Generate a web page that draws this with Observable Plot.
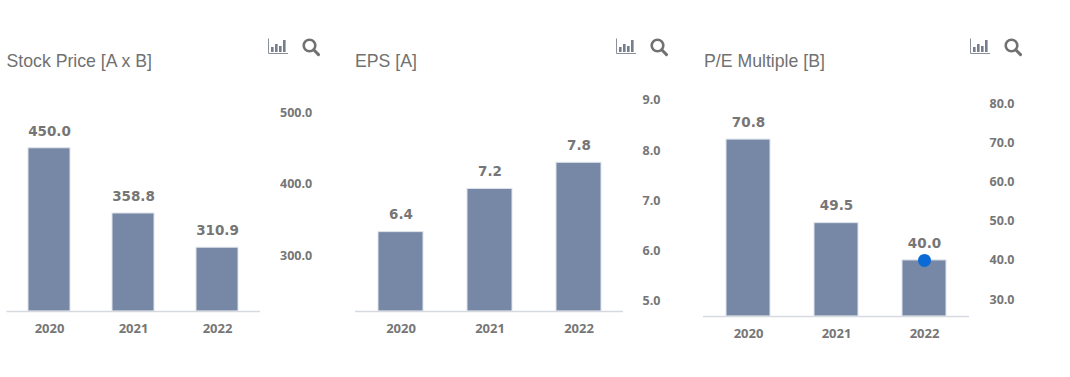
<!DOCTYPE html>
<html><head><meta charset="utf-8">
<script src="https://cdn.jsdelivr.net/npm/d3@7"></script>
<script src="https://cdn.jsdelivr.net/npm/@observablehq/plot@0.6"></script>
<style>
html,body{margin:0;padding:0;background:#fff;overflow:hidden}
#root{position:relative;width:1070px;height:377px}
.title{position:absolute;top:50px;font:17.7px "Liberation Sans",Arial,sans-serif;color:#717171;white-space:nowrap;line-height:22px}
.ic{position:absolute;top:36px}
</style></head><body><div id="root"></div>
<script>
const years = ["2020","2021","2022"];
const priceValues = [450.0,358.8,310.9];
const epsValues = [6.38,7.24,7.76];
const peValues = [70.8,49.5,40.0];
const priceTicks = [300,400,500];
const epsTicks = [5,6,7,8,9];
const peTicks = [30,40,50,60,70,80];
const BAR="#7788a6", TXT="#767676", AXIS="#d6d9e0";

const panels = [
 {title:"Stock Price [A x B]", titleX:6.5, left:0, w:340, ml:6.5, mr:80, bottom:311, domain:[221.7,544.8], values:priceValues, ticks:priceTicks, iconX:267, pad:19.5},
 {title:"EPS [A]", titleX:355, left:340, w:340, ml:15, mr:57, bottom:311, domain:[4.8,9.398], values:epsValues, ticks:epsTicks, iconX:615, pad:19},
 {title:"P/E Multiple [B]", titleX:704, left:690, w:340, ml:13, mr:61, bottom:316, domain:[25.7,85.87], values:peValues, ticks:peTicks, iconX:969, pad:20, dot:2}
];
const root = document.getElementById("root");
for (const p of panels) {
  const rows = years.map((y,i)=>({year:y, v:p.values[i], label:p.values[i].toFixed(1)}));
  const marks = [
    Plot.barY(rows,{x:"year",y1:()=>p.domain[0],y2:"v",fill:BAR,stroke:"#dfe4ec",strokeWidth:1}),
    Plot.ruleY([p.domain[0]],{stroke:AXIS,strokeWidth:1.5}),
    Plot.text(rows,{x:"year",y:"v",text:"label",dy:-17,fill:TXT,fontWeight:"bold",fontSize:13.5,fontFamily:"'DejaVu Sans',sans-serif"}),
    Plot.axisX({tickSize:0,tickPadding:12,fontWeight:"bold",fontSize:13,color:TXT,label:null,fontFamily:"'Open Sans',sans-serif"}),
    Plot.axisY({anchor:"right",ticks:p.ticks,tickSize:0,tickPadding:p.pad,tickFormat:d=>d.toFixed(1),fontWeight:"bold",fontSize:12.5,color:TXT,label:null,fontFamily:"'Open Sans',sans-serif"})
  ];
  if (p.dot!=null) marks.push(Plot.dot([rows[p.dot]],{x:"year",y:"v",r:6.5,fill:"#0a6ad6",stroke:"none"}));
  const svg = Plot.plot({
    width:p.w,height:377,marginLeft:p.ml,marginRight:p.mr,marginTop:80,marginBottom:377-p.bottom,
    x:{type:"band",domain:years,paddingInner:0.5,paddingOuter:0.25,align:0.5},
    y:{domain:p.domain},
    style:{background:"transparent",overflow:"visible"},
    marks
  });
  svg.style.position="absolute";svg.style.left=p.left+"px";svg.style.top="0";
  root.appendChild(svg);
  const t=document.createElement("div");t.className="title";t.style.left=p.titleX+"px";t.textContent=p.title;root.appendChild(t);
  const ic=document.createElement("div");ic.className="ic";ic.style.left=p.iconX+"px";
  ic.innerHTML=`<svg width="56" height="22" viewBox="0 0 56 22" fill="none">
    <path d="M1.5 2.5V17.5H21" stroke="#8a8f99" stroke-width="1"/>
    <g fill="#767d8d"><rect x="4" y="11" width="2.6" height="5"/><rect x="8" y="8" width="2.6" height="8"/><rect x="12" y="10" width="2.6" height="6"/><rect x="16" y="4" width="2.6" height="12"/></g>
    <circle cx="42.5" cy="9.5" r="5.8" stroke="#717171" stroke-width="2.6"/><path d="M46.7 13.8L51.5 18.6" stroke="#717171" stroke-width="3" stroke-linecap="round"/>
  </svg>`;
  root.appendChild(ic);
}
</script></body></html>
